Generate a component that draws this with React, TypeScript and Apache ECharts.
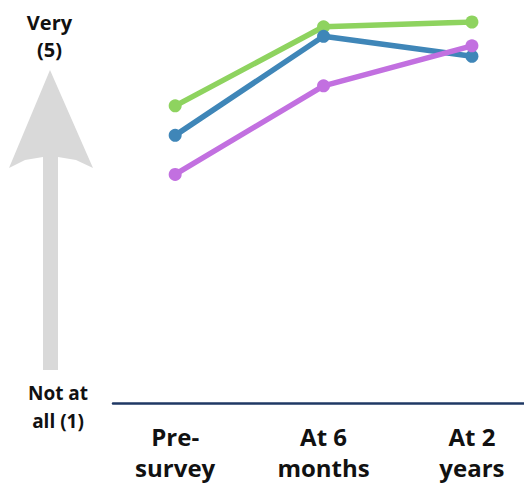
import React, { useEffect, useRef } from "react";
import * as echarts from "echarts";

const categories = ["Pre-\nsurvey", "At 6\nmonths", "At 2\nyears"];
const greenValues = [4.12, 4.95, 5.0];
const blueValues = [3.81, 4.85, 4.64];
const purpleValues = [3.4, 4.33, 4.75];
const yTopLabel = "Very\n(5)";
const yBottomLabel = "Not at\nall (1)";

const toPoints = (vals: number[]) => vals.map((v, i) => [i, v]);

export default function App() {
  const ref = useRef<HTMLDivElement>(null);
  useEffect(() => {
    document.body.style.margin = "0";
    const chart = echarts.init(ref.current!, null, { renderer: "svg" });
    const font = "'Open Sans', sans-serif";
    const mkSeries = (name: string, vals: number[], color: string) => ({
      name,
      type: "line",
      data: toPoints(vals),
      symbol: "circle",
      symbolSize: 13,
      lineStyle: { color, width: 5.5 },
      itemStyle: { color },
      z: 3,
    });
    chart.setOption({
      animation: false,
      backgroundColor: "#ffffff",
      grid: { left: 113, right: 0, top: 22, bottom: 82 },
      xAxis: {
        type: "value",
        min: -0.419,
        max: 2.351,
        axisLine: { show: true, lineStyle: { color: "#1f3864", width: 2.5 } },
        axisTick: { show: false },
        splitLine: { show: false },
        axisLabel: {
          customValues: [0, 1, 2],
          formatter: (v: number) => categories[Math.round(v)] ?? "",
          fontFamily: font,
          fontWeight: "bold",
          fontSize: 24,
          lineHeight: 31,
          color: "#111111",
          margin: 18,
        },
      },
      yAxis: {
        type: "value",
        min: 1,
        max: 5,
        show: false,
        splitLine: { show: false },
      },
      graphic: [
        {
          type: "polygon",
          shape: {
            points: [
              [50, 70],
              [93, 168],
              [76, 160],
              [58, 157],
              [58, 370],
              [43, 370],
              [43, 157],
              [25, 160],
              [9, 168],
            ],
          },
          style: { fill: "#d9d9d9" },
        },
        {
          type: "text",
          x: 49.5,
          y: 9,
          style: {
            text: yTopLabel,
            fontFamily: font,
            fontWeight: "bold",
            fontSize: 20,
            lineHeight: 27,
            fill: "#111111",
            align: "center",
            verticalAlign: "top",
          },
        },
        {
          type: "text",
          x: 58,
          y: 379,
          style: {
            text: yBottomLabel,
            fontFamily: font,
            fontWeight: "bold",
            fontSize: 19,
            lineHeight: 28,
            fill: "#111111",
            align: "center",
            verticalAlign: "top",
          },
        },
      ],
      series: [
        mkSeries("Green", greenValues, "#8ed35f"),
        mkSeries("Blue", blueValues, "#3f86b8"),
        mkSeries("Purple", purpleValues, "#c270e0"),
      ],
    });
    return () => chart.dispose();
  }, []);
  return (
    <div
      ref={ref}
      style={{ position: "absolute", left: 0, top: 0, width: 524, height: 485 }}
    />
  );
}
